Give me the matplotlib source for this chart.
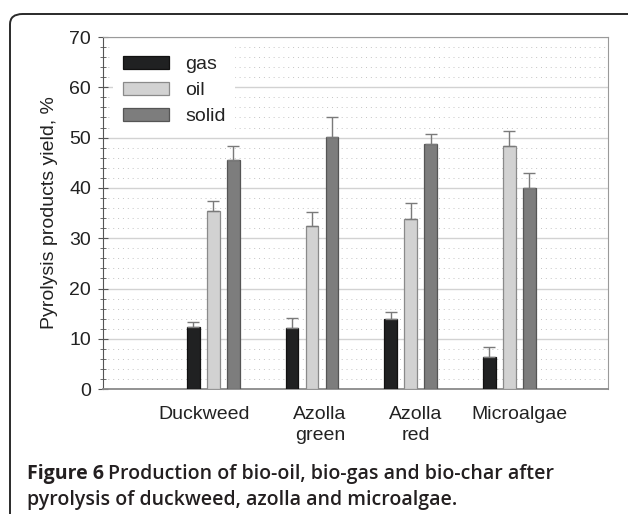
#!/usr/bin/env python3
"""Pyrolysis products yield (gas / oil / solid) for four biomass feedstocks."""

import matplotlib
matplotlib.use("Agg")
import matplotlib.pyplot as plt
import matplotlib.ticker as ticker
from matplotlib.patches import FancyBboxPatch
import numpy as np

CATEGORIES = ["Duckweed", "Azolla\ngreen", "Azolla\nred", "Microalgae"]
SERIES = ["gas", "oil", "solid"]

GAS_YIELD   = [12.4, 12.1, 13.9, 6.4]
OIL_YIELD   = [35.4, 32.4, 33.9, 48.3]
SOLID_YIELD = [45.5, 50.2, 48.7, 40.0]

GAS_ERR   = [1.0, 2.0, 1.4, 1.9]
OIL_ERR   = [2.0, 2.9, 3.1, 3.0]
SOLID_ERR = [2.9, 3.9, 2.1, 2.9]

FACE = {"gas": "#202122", "oil": "#d2d2d2", "solid": "#7d7d7d"}
EDGE = {"gas": "#111111", "oil": "#8a8a8a", "solid": "#555555"}

plt.rcParams["font.family"] = ["Liberation Sans", "DejaVu Sans"]

fig = plt.figure(figsize=(6.28, 5.14), dpi=100)
ax = fig.add_axes([0.164, 0.243, 0.804, 0.685])

x = np.arange(len(CATEGORIES))
width = 0.127
step = 0.203
values = {"gas": GAS_YIELD, "oil": OIL_YIELD, "solid": SOLID_YIELD}
errors = {"gas": GAS_ERR, "oil": OIL_ERR, "solid": SOLID_ERR}

for i, name in enumerate(SERIES):
    ax.bar(
        x + (i - 1) * step, values[name], width,
        color=FACE[name], edgecolor=EDGE[name], linewidth=0.9,
        label=name, zorder=3,
        yerr=[np.zeros(len(x)), errors[name]],
        error_kw=dict(ecolor="#7a7a7a", elinewidth=1.0, capsize=4, capthick=1.0, zorder=4),
    )

ax.set_xlim(-1.12, 4.0)
ax.set_ylim(0, 70)
ax.yaxis.set_major_locator(ticker.MultipleLocator(10))
ax.yaxis.set_minor_locator(ticker.MultipleLocator(2))
ax.grid(which="major", axis="y", color="#d2d2d2", linewidth=1.0, zorder=0)
ax.grid(which="minor", axis="y", color="#c4c4c4", linewidth=0.7,
        linestyle=(0, (1, 4)), zorder=0)
ax.set_axisbelow(True)

# category labels sit a little off the group centres, as in the original
label_pos = [-0.09, 1.08, 2.05, 3.10]
ax.set_xticks(label_pos)
ax.set_xticklabels(CATEGORIES, fontsize=14, color="#222222", linespacing=1.3)
ax.tick_params(axis="x", length=0, pad=12)
ax.tick_params(axis="y", which="major", direction="inout", length=7,
               color="#555555", labelsize=14, labelcolor="#222222", pad=5)
ax.tick_params(axis="y", which="minor", direction="inout", length=5, color="#555555")

for side in ["top", "right"]:
    ax.spines[side].set_color("#9a9a9a")
ax.spines["left"].set_color("#555555")
ax.spines["bottom"].set_color("#8a8a8a")
ax.spines["bottom"].set_linewidth(1.3)

ax.set_ylabel("Pyrolysis products yield, %", fontsize=14, color="#222222", labelpad=8)

leg = ax.legend(
    loc="upper left", bbox_to_anchor=(0.02, 0.975), fontsize=14,
    frameon=True, facecolor="white", edgecolor="none", framealpha=1,
    fancybox=False, handlelength=2.4, handleheight=0.65,
    labelspacing=0.45, handletextpad=0.8, borderpad=0.5, borderaxespad=0.0,
)
leg.set_zorder(2.5)
for txt in leg.get_texts():
    txt.set_color("#222222")

# rounded outer frame, right and bottom sides run off the image
frame = FancyBboxPatch(
    (10 / 628, -0.05), 1.05, (514 - 14) / 514 + 0.05,
    boxstyle="round,pad=0,rounding_size=0.02",
    transform=fig.transFigure, fill=False, edgecolor="#2a2a2a",
    linewidth=1.4, clip_on=False,
)
fig.patches.append(frame)

# caption: bold figure number, then regular text
cap_kw = dict(fontsize=14, color="#231f20", family=["Open Sans", "DejaVu Sans"])
y1 = 1 - 479 / 514
y2 = 1 - 505 / 514
t1 = fig.text(27 / 628, y1, "Figure 6", fontweight="bold", **cap_kw)
fig.canvas.draw()
bb = t1.get_window_extent(renderer=fig.canvas.get_renderer())
x_after = (bb.x1 + 4) / fig.bbox.width
fig.text(x_after, y1, "Production of bio-oil, bio-gas and bio-char after",
         fontweight="semibold", **cap_kw)
fig.text(27 / 628, y2, "pyrolysis of duckweed, azolla and microalgae.",
         fontweight="semibold", **cap_kw)

fig.savefig("out.png", dpi=100)
